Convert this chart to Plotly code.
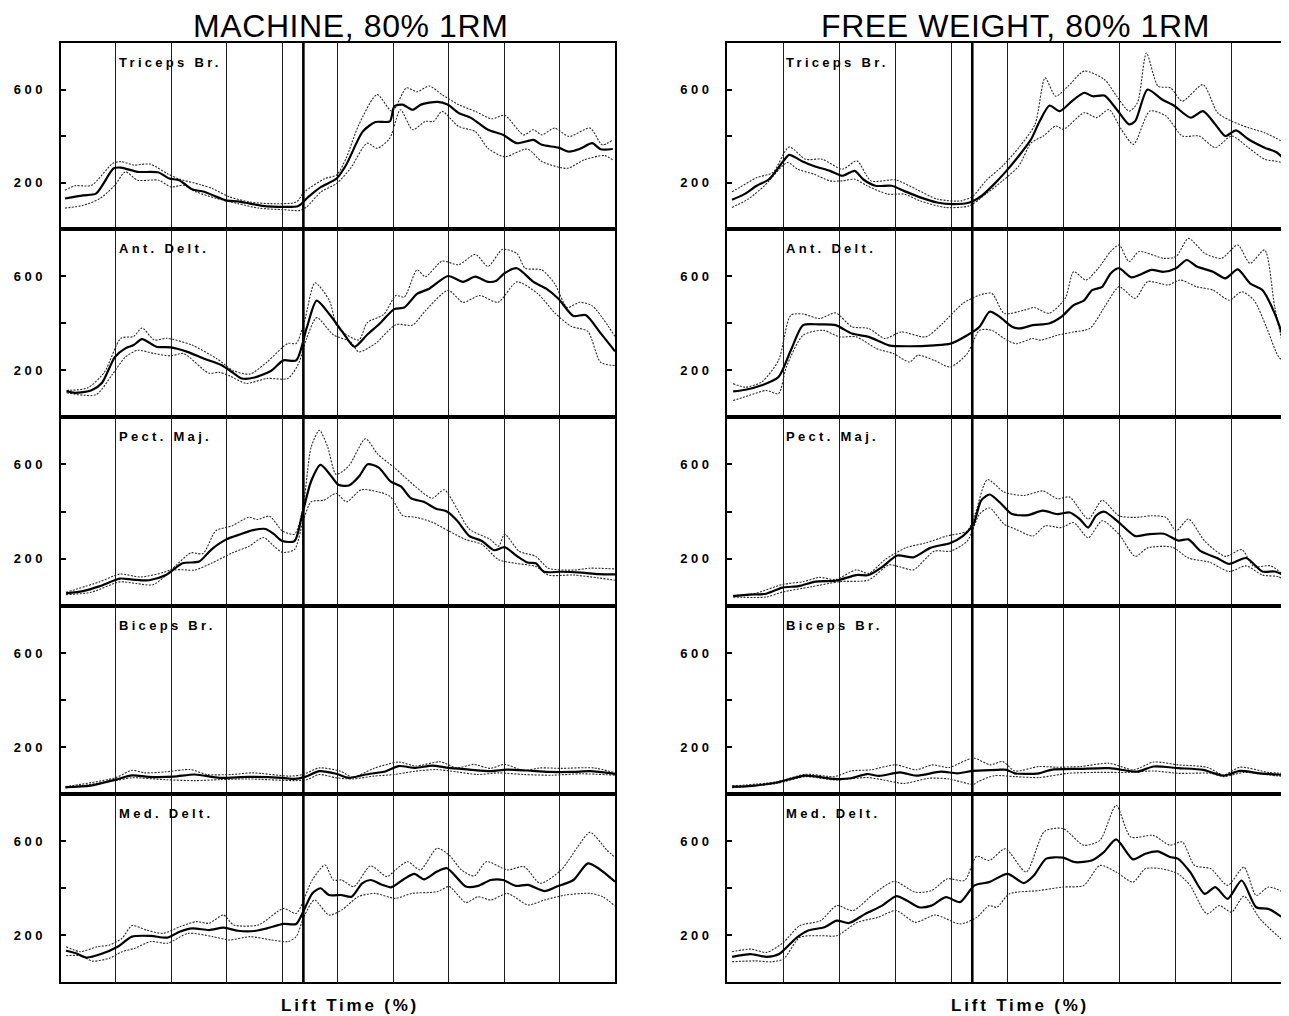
import plotly.graph_objects as go

# ---------------- data: (lift time %, EMG) ----------------
machine_triceps_mean = [(0.8,131),(4.1,145),(6.4,152),(9.6,261),(10.9,264),(13.9,246),(17.7,243),(19.6,217),(21.4,210),(23.7,171),(25.9,160),(29.8,123),(32.0,119),(34.2,109),(37.2,97),(39.8,95),(42.9,99),(44.7,138),(47.0,181),(49.8,217),(51.5,275),(54.5,419),(56.8,460),(59.4,463),(60.2,528),(61.7,535),(63.5,513),(65.0,535),(68.0,547),(69.8,535),(71.8,499),(74.1,477),(77.1,427),(79.8,405),(82.3,369),(85.3,383),(86.8,362),(89.8,350),(91.7,333),(93.6,344),(95.9,369),(97.4,343),(99.6,344)]
machine_triceps_upper = [(0.8,167),(2.6,186),(5.6,188),(9.4,282),(10.9,290),(13.2,275),(16.2,279),(19.2,239),(21.4,215),(25.2,191),(27.4,174),(30.5,138),(34.2,116),(38.0,109),(42.5,116),(44.0,160),(47.7,217),(49.8,232),(51.5,304),(53.8,448),(57.1,578),(59.8,506),(62.4,607),(64.3,590),(66.5,615),(68.8,578),(71.8,535),(74.8,506),(77.8,474),(80.1,489),(83.5,405),(85.3,427),(86.8,405),(89.1,434),(91.7,398),(95.5,434),(97.7,362),(99.6,383)]
machine_triceps_lower = [(0.8,90),(4.1,102),(7.1,131),(9.8,188),(11.7,246),(13.9,210),(17.7,210),(19.9,181),(22.2,188),(24.4,160),(28.2,131),(32.0,109),(35.7,90),(40.2,83),(43.2,80),(44.4,95),(47.0,160),(49.8,196),(52.3,261),(55.3,369),(57.1,347),(59.4,391),(61.3,513),(63.5,427),(65.8,463),(67.3,463),(68.8,506),(71.8,441),(74.8,419),(77.1,347),(80.1,311),(84.2,344),(86.8,290),(91.4,261),(94.4,297),(98.1,316),(99.6,297)]

free_triceps_mean = [(0.9,126),(3.1,150),(5.3,186),(7.5,214),(10.0,290),(11.1,319),(13.3,293),(15.5,271),(18.4,250),(20.6,229),(22.8,250),(24.3,214),(26.5,186),(29.4,186),(31.6,164),(34.5,136),(37.5,114),(40.4,107),(43.3,114),(45.5,143),(47.7,193),(49.9,250),(52.1,314),(54.3,386),(55.7,457),(57.6,531),(59.4,507),(61.6,550),(63.8,586),(65.3,571),(67.4,574),(69.6,514),(71.8,450),(72.9,464),(75.1,600),(77.7,557),(79.9,529),(82.8,479),(85.0,507),(87.2,450),(89.0,400),(90.9,424),(93.1,386),(96.0,350),(98.2,329),(100,286)]
free_triceps_upper = [(0.9,160),(2.3,179),(5.3,221),(8.2,243),(11.1,353),(14.0,300),(17.0,300),(20.6,257),(23.2,293),(25.7,207),(30.1,211),(33.8,171),(37.5,129),(41.8,121),(44.0,143),(46.2,207),(49.2,271),(52.1,350),(55.0,450),(56.8,650),(58.7,571),(60.9,614),(63.8,679),(67.4,643),(69.6,571),(71.8,507),(73.3,543),(74.9,757),(77.0,614),(79.2,607),(81.3,550),(85.0,621),(87.6,500),(90.1,464),(93.1,436),(96.0,414),(98.9,379),(100,357)]
free_triceps_lower = [(0.9,93),(3.8,129),(6.7,186),(10.8,286),(12.6,257),(15.5,236),(18.4,207),(20.6,207),(22.8,214),(25.0,186),(28.7,150),(31.6,150),(34.5,121),(38.9,93),(43.3,100),(46.2,150),(49.2,207),(52.1,271),(54.3,370),(56.5,400),(58.7,443),(60.1,429),(63.8,500),(66.0,479),(68.2,514),(70.4,429),(72.6,364),(75.5,507),(78.4,486),(81.3,400),(84.3,400),(87.2,350),(90.1,400),(93.1,350),(96.0,300),(98.9,286),(100,243)]

machine_antdelt_mean = [(1.1,110),(2.6,103),(5.6,114),(7.5,146),(9.8,255),(11.7,292),(13.2,306),(14.7,331),(17.3,299),(19.9,296),(22.9,277),(25.9,248),(28.9,222),(31.2,187),(32.7,164),(35.0,168),(38.0,197),(40.2,241),(42.5,241),(44.4,379),(46.2,495),(48.5,437),(50.8,364),(53.0,299),(55.3,350),(57.5,396),(60.2,459),(62.0,466),(64.3,524),(66.5,546),(69.9,600),(72.6,575),(74.8,597),(77.1,575),(78.6,580),(80.1,612),(82.3,633),(85.3,575),(87.6,546),(89.8,503),(92.5,430),(94.7,434),(97.4,357),(100,280)]
machine_antdelt_upper = [(1.1,113),(4.9,124),(7.9,190),(10.9,335),(13.2,343),(14.7,379),(16.9,328),(19.2,335),(23.7,306),(28.2,248),(31.2,197),(34.2,183),(37.2,233),(41.0,313),(42.5,313),(44.0,408),(45.9,571),(48.5,495),(50.0,380),(53.8,328),(55.3,401),(58.3,437),(60.5,517),(62.0,510),(64.3,626),(65.8,597),(68.8,663),(71.8,648),(74.8,692),(77.1,641),(79.7,713),(82.3,696),(83.8,633),(86.8,626),(89.1,568),(91.4,466),(93.6,488),(95.9,473),(100,343)]
machine_antdelt_lower = [(1.1,103),(6.4,95),(9.4,183),(11.7,255),(13.9,284),(16.9,270),(19.9,260),(22.2,270),(26.7,187),(28.6,190),(30.5,175),(33.5,143),(37.2,164),(41.0,164),(42.9,226),(44.4,335),(46.2,423),(49.2,350),(52.3,320),(53.8,277),(56.8,313),(60.5,393),(63.5,391),(65.8,452),(69.9,539),(72.6,488),(75.6,517),(78.9,488),(82.3,575),(86.1,524),(89.1,444),(92.1,386),(95.1,364),(97.4,233),(100,219)]

free_antdelt_mean = [(1.1,109),(3.3,116),(6.2,135),(9.2,170),(11.4,284),(13.6,391),(16.5,394),(19.4,391),(22.3,355),(25.3,341),(28.9,305),(32.6,301),(37.0,305),(39.9,312),(42.9,348),(45.1,384),(46.9,448),(48.7,426),(50.9,384),(52.4,377),(54.6,391),(57.5,398),(59.7,426),(61.9,476),(63.7,495),(65.2,540),(67.0,554),(68.5,611),(70.0,633),(72.2,594),(73.6,604),(75.8,626),(78.0,618),(80.2,633),(82.1,668),(83.9,640),(86.8,618),(89.0,590),(91.2,628),(93.4,569),(95.6,540),(97.8,441),(100,291)]
free_antdelt_upper = [(1.1,142),(3.3,127),(6.2,149),(9.2,241),(11.4,433),(13.6,438),(16.5,419),(19.4,443),(22.3,384),(25.3,377),(28.2,334),(31.1,362),(35.5,341),(38.5,398),(42.1,483),(45.1,519),(47.3,526),(49.5,441),(53.1,455),(54.9,466),(57.5,441),(60.4,505),(61.9,618),(64.1,583),(66.3,633),(68.5,704),(70.0,732),(71.8,661),(73.6,704),(78.0,675),(80.2,683),(82.4,760),(85.3,697),(88.3,675),(91.2,732),(93.4,654),(96.0,711),(97.8,469),(100,227)]
free_antdelt_lower = [(1.1,70),(4.0,92),(7.0,113),(9.2,99),(10.6,213),(13.6,348),(17.2,369),(20.1,341),(23.1,341),(26.7,291),(29.7,270),(32.6,234),(34.1,263),(37.0,241),(39.9,213),(42.9,270),(45.1,369),(47.3,369),(49.5,334),(51.6,312),(54.6,334),(56.0,327),(59.0,348),(61.9,362),(64.8,377),(67.8,483),(70.0,554),(72.9,505),(75.1,576),(78.8,562),(80.9,583),(83.9,554),(86.8,540),(89.7,497),(91.9,533),(94.1,497),(96.3,384),(98.5,256),(100,227)]

machine_pect_mean = [(1.0,54),(4.0,63),(7.0,83),(10.7,116),(13.0,112),(16.0,109),(19.0,131),(22.0,181),(25.0,188),(27.2,239),(29.9,282),(32.5,304),(34.7,321),(37.0,326),(38.5,304),(40.0,275),(42.2,275),(43.7,398),(45.2,528),(46.9,597),(48.6,557),(50.1,513),(52.0,510),(53.9,550),(55.4,600),(57.4,586),(59.5,528),(61.4,506),(63.2,456),(65.5,441),(67.7,412),(69.6,401),(71.5,362),(73.7,297),(76.0,275),(78.2,236),(80.1,249),(82.4,210),(84.2,184),(85.7,181),(87.2,145),(90.2,145),(94.0,141),(97.0,135),(100,134)]
machine_pect_upper = [(1.0,58),(7.0,102),(10.7,135),(14.5,123),(19.7,152),(23.5,225),(25.7,222),(28.0,318),(31.0,340),(34.0,376),(35.5,366),(37.7,380),(40.0,318),(42.2,304),(43.7,412),(45.2,672),(46.7,744),(48.2,672),(49.7,557),(52.0,593),(55.0,708),(57.2,643),(60.2,586),(61.7,554),(64.0,506),(67.0,456),(69.2,492),(71.5,412),(73.7,326),(77.5,282),(79.0,253),(80.1,304),(82.7,232),(85.7,210),(88.0,160),(92.5,152),(95.5,160),(100,157)]
machine_pect_lower = [(1.0,48),(5.5,58),(10.7,102),(13.7,95),(16.7,90),(20.5,152),(24.2,152),(27.2,181),(31.0,225),(34.0,253),(36.6,290),(38.5,253),(40.0,227),(42.2,239),(43.7,355),(45.2,441),(47.5,448),(49.7,477),(51.6,441),(54.2,492),(57.2,484),(59.5,463),(61.7,383),(64.0,376),(67.0,355),(70.0,318),(73.0,282),(76.0,261),(79.0,196),(82.0,181),(85.7,167),(88.0,131),(92.5,131),(97.0,119),(100,109)]

free_pect_mean = [(1.1,42),(4.0,48),(7.0,52),(9.9,78),(12.8,84),(15.8,103),(19.4,107),(23.1,131),(25.3,131),(27.8,167),(30.4,214),(33.3,206),(36.3,246),(39.9,267),(42.1,296),(44.0,346),(45.4,447),(46.9,472),(48.7,439),(50.9,389),(53.8,385),(56.4,404),(59.0,389),(61.2,396),(63.0,368),(64.5,332),(65.9,382),(67.4,399),(70.0,353),(72.9,296),(75.1,303),(78.0,306),(80.6,277),(82.4,282),(84.6,232),(87.5,203),(89.7,178),(92.7,203),(95.6,146),(97.8,146),(100,124)]
free_pect_upper = [(1.1,45),(4.8,52),(9.9,91),(13.6,103),(16.5,121),(19.4,112),(23.1,153),(25.3,138),(28.2,196),(31.9,246),(35.5,267),(39.2,296),(42.9,318),(44.3,389),(46.5,535),(49.5,482),(53.1,468),(56.4,487),(59.0,454),(61.2,461),(64.5,368),(67.0,447),(70.0,382),(72.9,375),(75.8,382),(78.4,375),(80.2,318),(82.4,368),(85.3,275),(89.0,210),(91.9,239),(94.1,167),(97.1,170),(100,117)]
free_pect_lower = [(1.1,38),(7.0,38),(9.9,59),(15.0,81),(20.1,103),(25.3,110),(28.9,174),(31.1,164),(33.3,153),(37.0,232),(39.9,232),(42.9,275),(45.1,389),(46.9,415),(49.5,346),(51.6,325),(54.6,296),(56.8,339),(59.7,332),(61.9,353),(64.5,289),(67.0,361),(70.0,303),(72.9,210),(75.1,246),(79.5,249),(82.4,203),(86.1,186),(89.7,146),(92.7,170),(95.6,131),(98.5,124),(100,103)]

machine_biceps_mean = [(0.9,29),(5.4,36),(9.9,61),(12.9,79),(15.9,73),(20.4,74),(24.2,83),(28.7,69),(33.9,73),(39.9,69),(42.2,64),(44.1,73),(46.7,97),(49.7,86),(52.0,69),(55.0,83),(58.7,97),(61.0,119),(64.0,111),(67.0,121),(70.0,111),(73.7,104),(77.5,97),(80.5,104),(84.2,100),(88.0,94),(92.5,94),(95.5,97),(100,86)]
machine_biceps_upper = [(0.9,31),(9.9,69),(12.9,101),(15.2,90),(18.9,94),(23.4,104),(26.4,83),(30.9,83),(34.7,90),(41.4,76),(43.7,83),(46.7,111),(50.5,97),(52.7,71),(56.5,109),(61.0,136),(64.0,119),(68.5,137),(71.5,111),(74.5,126),(77.5,109),(80.1,126),(83.5,100),(86.5,111),(90.2,109),(96.2,111),(100,90)]
machine_biceps_lower = [(0.9,26),(9.9,57),(12.9,69),(18.9,61),(24.2,57),(28.7,61),(33.9,64),(42.2,57),(44.4,61),(46.7,83),(49.7,69),(52.7,64),(56.5,76),(60.2,83),(64.0,97),(67.7,104),(71.5,94),(75.2,83),(79.0,90),(83.5,83),(88.7,80),(94.0,86),(100,80)]

free_biceps_mean = [(0.9,31),(4.5,35),(8.9,49),(14.0,78),(19.2,64),(22.1,67),(25.0,85),(27.2,77),(30.9,92),(33.8,78),(38.2,95),(41.1,88),(44.0,98),(48.4,103),(49.9,103),(51.4,88),(55.7,88),(57.9,103),(63.1,107),(68.2,110),(71.8,98),(73.3,95),(76.2,117),(80.6,110),(85.0,103),(88.7,78),(91.6,98),(95.2,88),(99.6,81)]
free_biceps_upper = [(0.9,34),(8.9,52),(14.0,84),(19.2,74),(22.1,98),(25.7,103),(30.1,124),(33.8,103),(36.7,124),(39.6,113),(44.0,153),(47.0,124),(49.2,138),(51.4,98),(55.7,117),(58.7,114),(63.1,117),(68.2,131),(72.6,103),(76.2,136),(80.6,124),(85.7,114),(88.7,81),(91.6,114),(96.7,92),(99.6,88)]
free_biceps_lower = [(0.9,27),(8.9,45),(14.0,74),(19.2,60),(25.0,70),(27.9,60),(31.6,45),(36.0,67),(39.6,64),(44.0,41),(44.8,52),(47.7,78),(51.4,74),(55.7,70),(60.9,88),(66.0,92),(71.8,92),(76.2,98),(80.6,88),(86.4,88),(88.7,74),(92.3,92),(96.7,81),(99.6,74)]

machine_meddelt_mean = [(1.0,133),(2.8,122),(4.7,104),(7.3,119),(10.3,150),(12.9,193),(16.3,196),(19.3,189),(21.5,214),(23.8,228),(26.8,221),(29.4,231),(32.0,218),(35.0,217),(37.2,228),(40.2,247),(42.5,247),(43.9,306),(45.4,377),(46.9,399),(48.4,370),(50.7,370),(52.5,363),(54.4,420),(55.9,434),(58.1,413),(59.6,403),(61.9,437),(63.8,460),(65.6,437),(67.9,470),(69.7,484),(71.6,441),(73.1,406),(75.3,409),(77.6,434),(79.8,434),(82.1,409),(84.3,413),(87.3,387),(89.5,406),(92.5,434),(95.1,505),(97.0,484),(100,427)]
machine_meddelt_upper = [(1.0,150),(3.6,129),(6.6,150),(8.8,157),(11.1,186),(12.9,240),(15.5,221),(18.5,207),(21.5,235),(24.5,257),(26.8,250),(29.4,285),(31.2,243),(35.7,243),(40.2,313),(42.5,292),(45.4,434),(47.7,498),(49.2,434),(50.7,434),(52.9,406),(55.9,494),(58.9,448),(60.4,477),(62.6,512),(64.9,477),(67.9,569),(70.1,540),(72.3,477),(74.6,451),(76.8,512),(80.6,477),(83.6,491),(86.5,420),(90.3,477),(93.3,576),(95.5,637),(98.5,562),(100,530)]
machine_meddelt_lower = [(1.0,112),(3.6,112),(5.8,89),(8.8,101),(11.1,129),(13.3,143),(16.3,172),(19.3,165),(23.0,207),(27.5,193),(30.5,179),(34.2,193),(38.0,179),(41.0,172),(42.5,193),(43.9,278),(45.8,349),(48.4,285),(50.7,306),(53.7,363),(56.7,377),(60.4,356),(63.4,377),(67.9,384),(70.1,406),(73.1,338),(75.3,363),(77.6,349),(80.6,377),(84.3,328),(87.3,349),(91.0,370),(95.5,377),(97.8,363),(100,323)]

free_meddelt_mean = [(0.9,107),(4.2,119),(7.1,107),(9.3,119),(12.3,186),(14.5,219),(17.4,233),(19.6,261),(21.8,251),(24.7,290),(27.7,325),(30.2,365),(32.1,347),(34.3,318),(36.5,325),(39.1,361),(41.6,340),(44.2,411),(46.8,425),(50.1,460),(53.0,421),(54.8,453),(57.0,525),(60.0,529),(62.2,510),(65.1,517),(67.3,553),(69.5,607),(72.5,522),(74.7,546),(76.9,556),(79.1,532),(80.5,525),(82.7,468),(85.3,375),(87.2,404),(89.4,354),(91.9,432),(94.5,318),(96.7,311),(100,261)]
free_meddelt_upper = [(0.9,129),(4.2,140),(7.1,126),(10.1,169),(13.0,240),(16.7,261),(19.6,325),(22.5,304),(26.2,375),(29.9,428),(33.6,382),(36.5,389),(39.4,439),(42.4,432),(44.6,535),(46.8,517),(49.7,567),(53.4,468),(56.7,641),(60.0,653),(63.7,582),(66.6,603),(69.5,752),(72.1,617),(76.1,624),(79.1,582),(81.3,596),(83.5,496),(86.4,482),(89.4,411),(92.3,489),(94.5,368),(96.7,404),(100,375)]
free_meddelt_lower = [(0.9,86),(4.9,90),(7.9,86),(10.1,98),(13.0,190),(16.7,197),(19.6,197),(23.3,254),(26.9,275),(30.2,304),(33.6,254),(37.2,285),(41.6,247),(44.6,275),(46.8,325),(48.2,318),(50.4,375),(55.6,389),(60.0,404),(63.7,411),(66.6,496),(69.5,468),(72.5,425),(74.7,482),(77.6,482),(80.5,461),(82.7,411),(85.7,290),(87.9,325),(90.1,297),(92.3,365),(95.2,268),(99.6,169)]

muscle_labels = ["Triceps Br.", "Ant. Delt.", "Pect. Maj.", "Biceps Br.", "Med. Delt."]
column_titles = ["MACHINE, 80% 1RM", "FREE WEIGHT, 80% 1RM"]
y_tick_values = [200, 400, 600]
y_tick_labels = ["200", "", "600"]
x_grid_values = [10, 20, 30, 40, 50, 60, 70, 80, 90]
transition_pct = 43.8
x_title = "Lift Time (%)"

machine_panels = [
    (machine_triceps_mean, machine_triceps_upper, machine_triceps_lower),
    (machine_antdelt_mean, machine_antdelt_upper, machine_antdelt_lower),
    (machine_pect_mean, machine_pect_upper, machine_pect_lower),
    (machine_biceps_mean, machine_biceps_upper, machine_biceps_lower),
    (machine_meddelt_mean, machine_meddelt_upper, machine_meddelt_lower),
]
free_panels = [
    (free_triceps_mean, free_triceps_upper, free_triceps_lower),
    (free_antdelt_mean, free_antdelt_upper, free_antdelt_lower),
    (free_pect_mean, free_pect_upper, free_pect_lower),
    (free_biceps_mean, free_biceps_upper, free_biceps_lower),
    (free_meddelt_mean, free_meddelt_upper, free_meddelt_lower),
]

# ---------------- layout geometry (pixels in the 1289x1016 page) ----------------
PAGE_W, PAGE_H = 1289, 1016
OFF = 8                      # default page margin around the plot div
W, H = PAGE_W - OFF, PAGE_H - OFF
col_px = [(60.5, 615.0), (727.0, 1287.0)]
row_px = [(43, 229), (229, 417), (417, 606), (606, 794), (794, 982)]
title_cx = [350, 1015]
xtitle_cx = [350, 1020]
FONT = "Liberation Sans, Arial, Helvetica, sans-serif"


def px(xp):
    return (xp - OFF) / W


def py(yp):
    return 1 - (yp - OFF) / H


def spaced(t, s):
    return f'<span style="letter-spacing:{s}px">{t}</span>' if t else t


fig = go.Figure()
layout = dict(
    width=W, height=H,
    margin=dict(l=0, r=0, t=0, b=0, pad=0, autoexpand=False),
    paper_bgcolor="white", plot_bgcolor="white",
    showlegend=False,
    font=dict(family=FONT, color="black"),
)
annotations = []
shapes = []

dotted = dict(color="#2a2a2a", width=1.1, dash="2px,1.4px", shape="spline", smoothing=0.7)
solid = dict(color="black", width=2.2, shape="spline", smoothing=0.7)

n = 0
for c, panels in enumerate([machine_panels, free_panels]):
    x0p, x1p = col_px[c]
    first_axis = None
    for r, (mean, upper, lower) in enumerate(panels):
        n += 1
        suffix = "" if n == 1 else str(n)
        xa, ya = "x" + suffix, "y" + suffix
        if first_axis is None:
            first_axis = xa
        top, bot = row_px[r]
        for pts, style in [(upper, dotted), (lower, dotted), (mean, solid)]:
            xs = [p[0] for p in pts]
            ys = [p[1] for p in pts]
            fig.add_trace(go.Scatter(x=xs, y=ys, xaxis=xa, yaxis=ya, mode="lines",
                                     line=style, hoverinfo="skip", showlegend=False))
        layout["xaxis" + suffix] = dict(
            domain=[px(x0p), px(x1p)], range=[0, 100], anchor=ya, automargin=False,
            showline=True, mirror=True, linecolor="black", linewidth=2,
            tickvals=x_grid_values, showticklabels=False, ticks="",
            showgrid=True, gridcolor="#1e1e1e", gridwidth=1, zeroline=False,
            fixedrange=True,
        )
        layout["yaxis" + suffix] = dict(
            domain=[py(bot), py(top)], range=[0, 800], anchor=xa, automargin=False,
            showline=True, mirror=True, linecolor="black", linewidth=2,
            tickvals=y_tick_values, ticktext=[spaced(t, 3.5) for t in y_tick_labels],
            ticks="inside", ticklen=5, tickwidth=1.5, tickcolor="black",
            showgrid=False, zeroline=False, ticklabelstandoff=10,
            tickfont=dict(family=FONT, size=13, color="black", weight="bold"),
            fixedrange=True,
        )
        annotations.append(dict(
            text=spaced(muscle_labels[r], 3.3), x=10.2, y=716, xref=xa, yref=ya,
            xanchor="left", yanchor="middle", showarrow=False,
            font=dict(family=FONT, size=13, color="black", weight="bold"),
        ))
    shapes.append(dict(type="line", xref=first_axis, yref="paper",
                       x0=transition_pct, x1=transition_pct,
                       y0=py(row_px[-1][1]), y1=py(row_px[0][0]),
                       line=dict(color="black", width=2.6), layer="above"))
    annotations.append(dict(
        text=spaced(column_titles[c], 0.6), x=px(title_cx[c]), y=py(26), xref="paper", yref="paper",
        xanchor="center", yanchor="middle", showarrow=False,
        font=dict(family=FONT, size=32, color="black"),
    ))
    annotations.append(dict(
        text=spaced(x_title, 2.8), x=px(xtitle_cx[c]), y=py(1005),
        xref="paper", yref="paper", xanchor="center", yanchor="middle", showarrow=False,
        font=dict(family=FONT, size=17, color="black", weight="bold"),
    ))

layout["annotations"] = annotations
layout["shapes"] = shapes
fig.update_layout(**layout)
fig.write_html("out.html")
